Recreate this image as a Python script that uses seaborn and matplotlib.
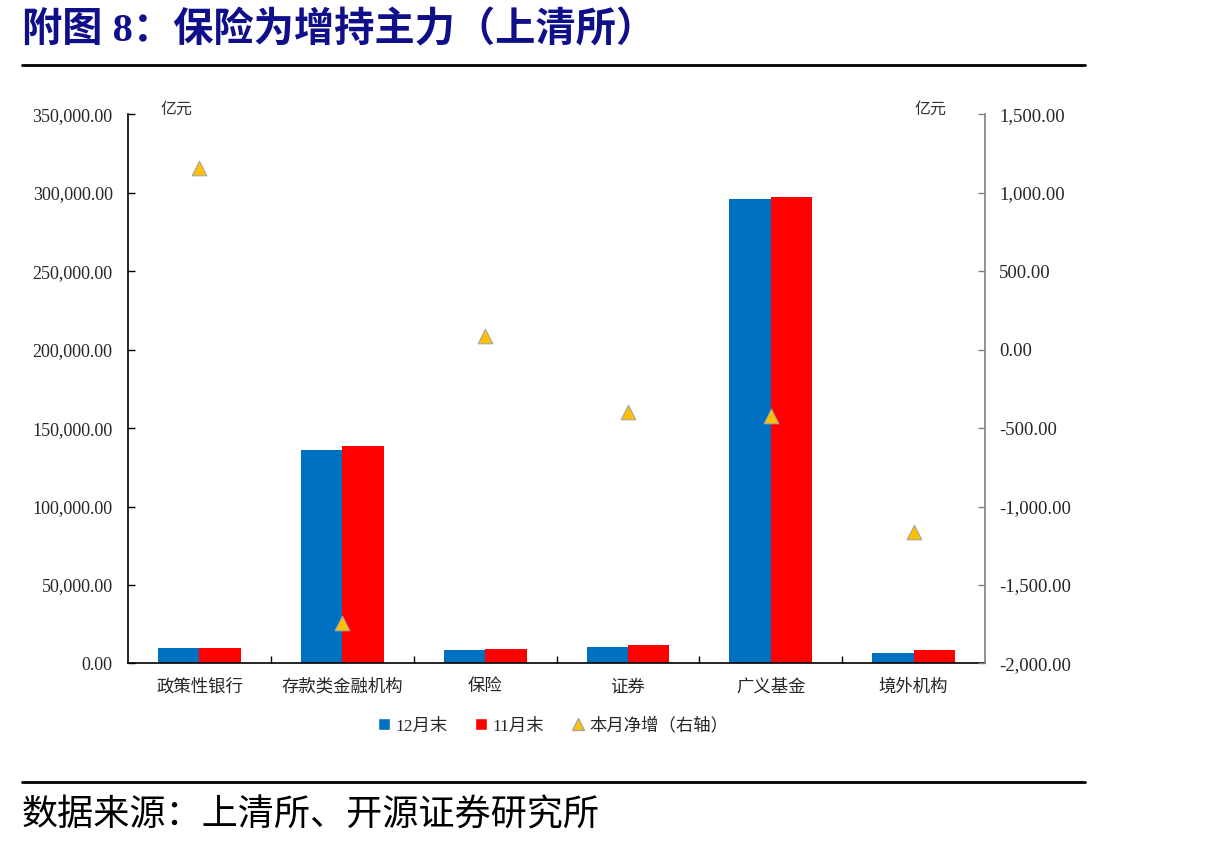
import numpy as np
import pandas as pd
import seaborn as sns
import matplotlib.pyplot as plt
from matplotlib.lines import Line2D
from matplotlib.patches import Patch
from matplotlib.ticker import FuncFormatter, FixedLocator

categories = ["政策性银行", "存款类金融机构", "保险", "证券", "广义基金", "境外机构"]
dec_end = [10000, 136000, 8600, 10700, 295900, 6700]
nov_end = [9900, 138500, 9200, 12000, 297100, 8600]
net_change = [1160, -1740, 85, -395, -420, -1160]
series_names = ["12月末", "11月末"]

sns.set_theme(style="white")
plt.rcParams["font.family"] = ["Liberation Serif", "Noto Sans CJK SC"]

df = pd.DataFrame({
    "机构": categories * 2,
    "值": dec_end + nov_end,
    "系列": [series_names[0]] * 6 + [series_names[1]] * 6,
})

fig = plt.figure(figsize=(12.1, 8.49), dpi=100)
ax = fig.add_axes([0.1058, 0.2186, 0.7083, 0.6467])

sns.barplot(data=df, x="机构", y="值", hue="系列", palette=["#0070C0", "#FF0000"],
            width=0.58, gap=0, saturation=1, legend=False, linewidth=0, ax=ax)
ax.set_ylim(0, 350000)
ax.set_xlim(-0.5, 5.5)
ax.set_yticks(np.arange(0, 350001, 50000))
ax.yaxis.set_major_formatter(FuncFormatter(lambda v, p: f"{v:,.2f}"))
ax.set_xlabel("")
ax.set_ylabel("")
ax.tick_params(axis="y", direction="in", length=5, width=1, labelsize=13, pad=11, color="black", left=True)
ax.tick_params(axis="x", which="both", length=0, pad=10)
ax.xaxis.set_minor_locator(FixedLocator(np.arange(0.5, 5, 1)))
ax.tick_params(axis="x", which="minor", direction="in", length=5, width=1, color="black", bottom=True)
for s in ["top", "right"]:
    ax.spines[s].set_visible(False)
ax.spines["left"].set_color("black")
ax.spines["bottom"].set_color("black")
ax.spines["left"].set_linewidth(1.2)
ax.spines["bottom"].set_linewidth(1.2)
for lab in ax.get_xticklabels():
    lab.set_fontfamily(["Noto Sans CJK SC"])
    lab.set_fontsize(12.5)

ax2 = ax.twinx()
sns.scatterplot(x=np.arange(len(categories)), y=net_change, marker="^", s=110,
                color="#FFC000", edgecolor="#A5A5A5", linewidth=0.8, ax=ax2, zorder=5)
ax2.set_ylim(-2000, 1500)
ax2.set_yticks(np.arange(-2000, 1501, 500))
ax2.yaxis.set_major_formatter(FuncFormatter(lambda v, p: f"{v:,.2f}"))
ax2.tick_params(axis="y", direction="in", length=5, width=1, labelsize=13.5, pad=10, color="#808080", right=True)
for s in ["top", "left", "bottom"]:
    ax2.spines[s].set_visible(False)
ax2.spines["right"].set_color("#808080")
ax2.spines["right"].set_linewidth(1.2)

fig.text(177 / 1210, 1 - 109 / 849, "亿元", ha="center", va="center", fontsize=11.5,
         family=["Noto Sans CJK SC"], color="#333333")
fig.text(931 / 1210, 1 - 109 / 849, "亿元", ha="center", va="center", fontsize=11.5,
         family=["Noto Sans CJK SC"], color="#333333")

handles = [
    Patch(facecolor="#0070C0", label=series_names[0]),
    Patch(facecolor="#FF0000", label=series_names[1]),
    Line2D([], [], marker="^", linestyle="none", markersize=9, markerfacecolor="#FFC000",
           markeredgecolor="#A5A5A5", label="本月净增（右轴）"),
]
fig.legend(handles=handles, loc="center", bbox_to_anchor=(553 / 1210, 1 - 726 / 849), ncol=3,
           frameon=False, handlelength=0.7, handleheight=0.7, handletextpad=0.3,
           columnspacing=1.6, prop={"family": ["Liberation Serif", "Noto Sans CJK SC"], "size": 12.5})

fig.text(22 / 1210, 1 - 31 / 849, "附图 8：保险为增持主力（上清所）", ha="left", va="center",
         fontsize=29, fontweight="bold", color="#0F0F8A", family=["Liberation Serif", "Noto Sans CJK SC"])
fig.add_artist(Line2D([22 / 1210, 1085 / 1210], [1 - 65 / 849, 1 - 65 / 849], color="black", linewidth=2))
fig.add_artist(Line2D([22 / 1210, 1085 / 1210], [1 - 782 / 849, 1 - 782 / 849], color="black", linewidth=2))
fig.text(22 / 1210, 1 - 815 / 849, "数据来源：上清所、开源证券研究所", ha="left", va="center",
         fontsize=26, color="black", family=["Noto Sans CJK SC"])

fig.savefig("out.png", dpi=100)
